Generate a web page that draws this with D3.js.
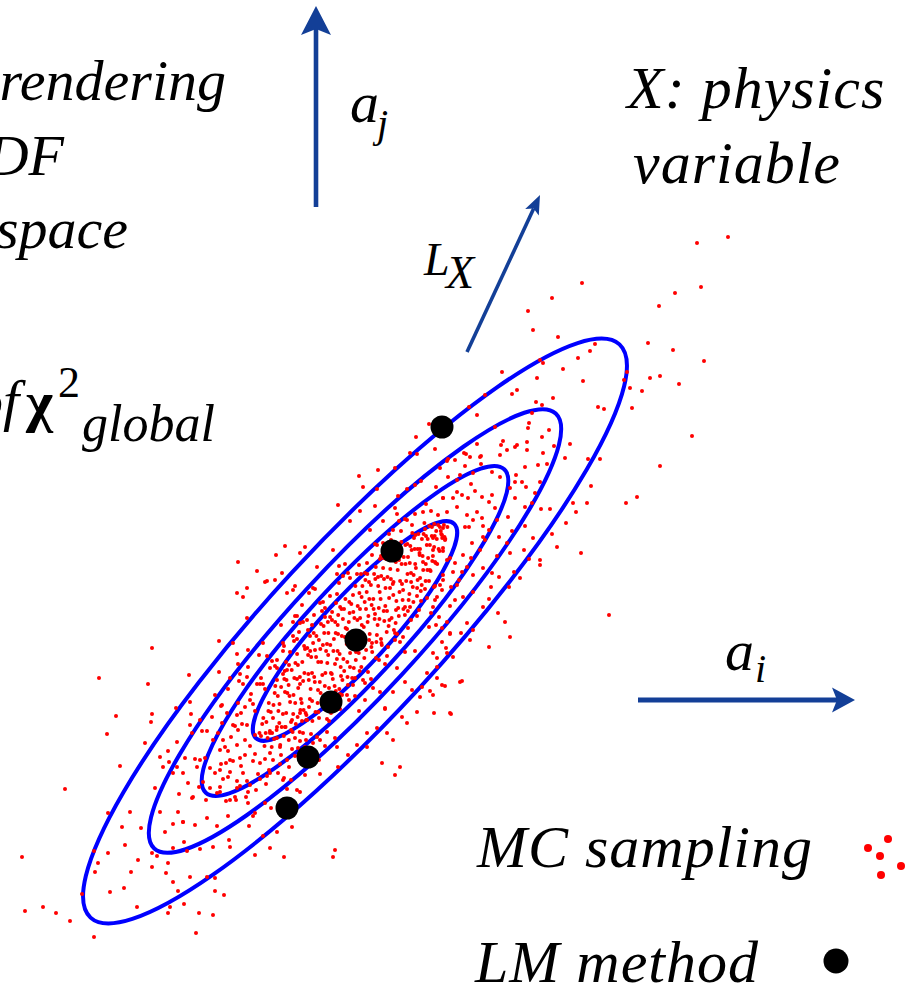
<!DOCTYPE html>
<html>
<head>
<meta charset="utf-8">
<script src="https://cdn.jsdelivr.net/npm/d3@7"></script>
<style>
  html, body { margin: 0; padding: 0; background: #fff; overflow: hidden; }
  svg { display: block; }
</style>
</head>
<body>
<svg id="fig" width="909" height="988"></svg>
<script>
// ---- parameter plane (a_i, a_j), origin at the chi^2 minimum ----
const aiDomain = [-3.55, 5.54];
const ajDomain = [-3.57, 6.31];

// chi^2 contours: tilted ellipses around the minimum
const contourCenter = [0, 0];
const contourSemiMajor = [1.46, 2.20, 2.96, 3.90];
const contourSemiMinor = [0.34, 0.48, 0.64, 0.86];
const contourAngleDeg = 47.3;

// Lagrange-multiplier scan points along L_X
const lmPoints = [[0.87, 2.04], [0.37, 0.80], [0.01, -0.09], [-0.24, -0.71], [-0.47, -1.26], [-0.68, -1.77]];

// direction arrows (start, end) in the a_i / a_j plane
const arrowAj = [[-0.39, 4.24], [-0.39, 6.25]];
const arrowAi = [[2.83, -0.69], [5.00, -0.69]];
const arrowLx = [[1.12, 2.79], [1.85, 4.36]];

// Monte Carlo samples of (a_i, a_j)
const mcOuterUpper = [
  [3.73,3.94],[3.42,3.88],[2.27,3.48],[3.46,3.44],[3.20,3.38],[1.97,3.33],[1.73,3.20],[3.04,3.25],[1.78,3.01],[2.03,2.94],
  [2.40,2.87],[2.93,2.88],[3.18,2.81],[2.23,2.73],[3.49,2.70],[1.88,2.68],[1.47,2.59],[2.08,2.62],[1.82,2.53],[2.28,2.50],
  [3.05,2.55],[2.95,2.53],[3.24,2.47],[1.62,2.41],[1.57,2.37],[2.75,2.43],[2.87,2.40],[1.98,2.33],[1.81,2.29],[1.87,2.26],
  [2.43,2.24],[2.49,2.22],[2.77,2.23],[1.14,2.24],[1.22,2.16],[3.37,1.95],[0.74,2.07],[0.61,1.94],[0.80,1.82],[0.55,1.78],
  [1.40,2.04],[1.77,2.18],[1.74,2.08],[1.73,2.03],[1.94,2.01],[1.87,1.94],[1.46,1.86],[1.52,1.81],[1.60,1.84],[1.72,1.89],
  [1.99,1.85],[2.15,1.87],[1.11,1.77],[1.25,1.74],[1.45,1.76],[1.72,1.81],[1.88,1.78],[2.72,2.59],[2.69,2.51],
  [0.04,1.55],[-0.17,1.26],[0.20,1.25],[0.23,1.61],[0.40,1.63],[0.08,1.44],[0.22,1.42],[0.43,1.35],[0.60,1.46],[0.42,1.17],
  [-0.05,1.10]
];
const mcOuterRight = [
  [3.05,1.65],[2.82,1.34],[2.71,1.28],[2.36,1.45],[2.32,1.28],[2.21,1.19],[2.45,1.72],[2.33,1.72],[2.18,1.28],[2.11,1.08],
  [2.02,0.84],[2.26,0.78],[1.97,0.97],[1.85,0.71],[1.85,0.66],[1.74,0.72],[1.65,0.53],[1.59,0.59],[1.54,0.44],[1.43,0.18],
  [1.50,0.09],[1.55,-0.06],[1.34,-0.16],[2.54,0.16],[1.07,-0.50],[0.90,-0.55],[0.82,-0.47],[0.96,-0.83],[0.79,-0.82],[0.75,-0.60],
  [1.70,1.64],[1.83,1.66],[1.92,1.67],[1.85,1.49],[1.71,1.44],[1.61,1.56],[1.67,1.49],[1.95,1.22],[1.86,1.22],[1.77,1.28],
  [1.70,1.24],[1.80,1.38],[1.60,1.33],[1.53,1.14],[1.57,1.00],[1.70,1.05],[1.78,0.93],[1.69,0.81],[1.52,0.88],[1.44,0.94],
  [1.42,0.75],[1.37,0.58],[1.44,0.54],[1.36,0.44],[1.18,0.39],[1.34,0.32],[1.28,0.24],[1.12,0.08],[1.18,0.01],[1.06,-0.02],
  [1.15,-0.09],[0.95,-0.03],[0.87,-0.11],[0.91,-0.17],[0.82,-0.27],[0.78,-0.22]
];
const mcMiddleRight = [
  [1.26,1.75],[1.15,1.74],[1.09,1.78],[1.00,1.71],[0.93,1.72],[1.10,1.65],[1.26,1.67],[1.37,1.59],[1.18,1.58],[1.05,1.56],
  [0.93,1.54],[0.85,1.63],[0.81,1.44],[1.02,1.51],[1.16,1.47],[1.27,1.34],[1.37,1.36],[1.34,1.29],[1.40,1.23],[1.45,1.54],
  [1.60,1.49],[1.07,1.36],[1.13,1.33],[0.88,1.33],[0.98,1.33],[0.92,1.19],[1.02,1.24],[1.12,1.16],[1.22,1.19],[1.27,1.13],
  [1.28,1.05],[1.14,1.04],[1.18,1.11],[1.42,1.11],[1.34,1.01],[1.28,0.94],[1.17,0.88],[1.25,0.81],[1.16,0.73],[1.08,0.76],
  [1.12,0.64],[1.07,0.59],[1.18,0.56],[1.28,0.63],[1.02,0.46],[1.08,0.34],[1.00,0.31],[0.95,0.25],[0.92,0.09],[0.87,0.03],
  [0.84,0.14],[0.81,0.06],[0.96,0.44],[0.88,0.56],[0.85,0.46],[0.82,0.34],[0.78,0.24],[0.76,0.18],
  [0.88,1.03],[0.87,0.96],[0.78,0.93],[0.78,0.81],[0.90,0.91],[0.88,0.83],[0.92,0.71],[1.00,0.68],[0.80,0.69],[0.98,0.59],
  [0.88,0.51],[0.87,0.41],[0.79,0.44],[0.80,0.31]
];
const mcOuterLeft = [
  [-1.17,0.69],[-1.18,0.38],[-1.08,0.43],[-1.12,0.34],[-2.03,-0.17],[-2.56,-0.47],[-2.07,-0.53],[-1.66,-0.44],[-1.36,-0.10],[-1.36,-0.41],
  [-2.39,-0.85],[-2.48,-1.03],[-2.03,-0.83],[-2.04,-0.91],[-2.10,-1.12],[-2.35,-1.35],[-2.90,-1.58],[-1.78,-1.11],[-1.65,-0.71],[-1.79,-0.77],
  [-1.64,-0.83],[-1.55,-0.89],[-1.63,-1.02],[-1.53,-1.00],[-1.87,-1.20],[-1.95,-1.26],[-1.70,-1.27],[-1.78,-1.36],[-1.82,-1.42],[-1.86,-1.31],
  [-1.72,-1.42],[-1.58,-1.36],[-1.50,-1.27],[-1.45,-1.37],[-1.67,-1.52],[-1.56,-1.56],[-1.35,-1.19],[-1.34,-0.75],[-1.22,-0.94],[-1.17,-0.99],
  [-1.08,-0.94],[-1.33,-0.92],[-1.43,-0.86],[-1.42,-1.09],[-1.32,-1.09],[-1.18,-1.14],[-1.40,-0.64],[-1.27,-0.58],[-1.17,-0.33],[-1.07,-0.36],
  [-1.08,-0.46],[-1.17,-0.72],[-1.10,-0.76],[-1.18,-0.84],[-1.25,-0.47],[-1.37,-1.02],[-1.35,-1.39],[-1.25,-1.29],[-1.15,-1.27],[-1.10,-1.24],
  [-1.35,-1.56],[-1.27,-1.46],[-1.18,-1.57],[-1.62,-1.66],[-1.07,-0.19],[-1.08,0.13],
  [-0.70,0.85],[-0.79,0.76],[-0.98,0.60],[-0.88,0.50],[-0.80,0.51],[-0.62,0.41],[-0.53,0.26],[-0.50,0.84],[-0.22,0.81],[-0.38,0.64],
  [-0.42,0.43],[-0.18,0.57],[-0.68,0.38],[-0.62,0.09],[-0.72,-0.12],[-0.92,-0.12],[-0.88,-0.25],[-1.22,-0.12],[-1.15,-0.43],[-0.98,-0.53],
  [-0.78,-0.49],[-0.68,-0.39],[-0.55,-0.53],[-0.78,-0.29],[-0.55,0.78],[-0.90,0.49],[-0.73,0.58]
];
const mcOuterLower = [
  [-3.12,-2.76],[-2.99,-2.82],[-2.85,-2.90],[-2.61,-3.06],[-1.59,-3.02],[-1.87,-2.82],[-1.56,-2.82],[-1.42,-2.84],[-1.40,-2.60],[-1.31,-2.64],
  [-1.71,-2.73],[-1.77,-2.60],[-1.65,-2.46],[-1.48,-2.46],[-1.82,-2.51],[-1.89,-2.42],[-1.87,-2.32],[-2.17,-2.29],[-2.24,-2.41],[-2.31,-2.57],
  [-2.03,-2.36],[-2.60,-2.41],[-2.57,-2.32],[-2.47,-2.22],[-2.33,-1.96],[-2.14,-1.97],[-2.25,-1.81],[-2.47,-1.82],[-2.61,-2.20],[-2.73,-2.63],
  [-2.03,-2.22],[-1.71,-2.11],[-1.72,-1.91],[-1.82,-1.93],[-1.95,-1.81],[-1.77,-1.81],[-1.60,-1.94],[-1.63,-1.67],[-1.49,-1.69],[-1.48,-1.87],
  [-1.27,-1.85],[-1.25,-2.16],[-1.00,-2.24],[-0.85,-2.17],[-0.71,-2.26],[-1.20,-1.66],[-1.07,-1.72],[-1.02,-1.85],[-0.72,-1.49],[-0.58,-1.59],
  [-0.78,-2.01],[-0.63,-1.96],[-1.55,-1.29],[-1.29,-1.32],[-1.14,-1.35],[-1.02,-1.30],[-1.12,-1.42],[-1.52,-1.51],[-1.05,-1.15],[-1.92,-1.36],
  [-1.28,-0.82],[-1.00,-1.04],[-0.85,-1.02],[-0.78,-0.96],[-0.70,-0.96],[-0.63,-0.89],[-0.55,-0.82],[-0.48,-0.89],[-0.75,-1.16],[-0.71,-1.47],
  [-0.68,-1.58],[-3.33,-2.26],[-3.30,-2.80],[-0.20,-2.19],[-0.22,-2.26],
  [0.95,-0.82],[1.05,-0.51],[0.65,-0.66],[0.67,-0.56],[0.45,-1.36],[0.27,-1.32],[0.40,-1.44],[0.12,-1.16],[-0.17,-1.36],[0.12,-1.02],
  [0.22,-0.97],[0.32,-1.02],[0.47,-0.86],[0.52,-0.92],[0.62,-0.81],[0.57,-0.59],[0.50,-0.51],[0.38,-0.61],[0.30,-0.77],[0.72,-0.42],
  [0.82,-0.36],[0.92,-0.22],[0.98,-0.26],[0.87,-0.54],[0.78,-0.64],[0.38,-1.09],[0.02,-1.14],[-0.07,-1.24],[-0.18,-1.16],[-0.28,-1.01],
  [-0.35,-1.09],[-0.50,-1.44],[-0.55,-1.61],[-0.85,-1.42],[-0.95,-1.32],[-1.07,-1.61],[-1.25,-1.69],[-1.00,-1.82]
];
const mcCore = [
  [-0.940,-1.05],[-0.917,-0.87],[-0.905,-1.15],[-0.886,-0.91],[-0.862,-0.72],[-0.851,-1.00],[-0.833,-1.16],[-0.815,-0.74],[-0.797,-0.55],[-0.784,-0.99],
  [-0.766,-0.80],[-0.748,-1.14],[-0.739,-0.56],[-0.721,-0.83],[-0.703,-0.40],[-0.694,-0.96],[-0.676,-0.62],[-0.662,-1.09],[-0.649,-0.71],[-0.633,-0.39],
  [-0.618,-0.83],[-0.607,-0.47],[-0.592,-0.93],[-0.579,-0.23],[-0.568,-0.57],[-0.553,-1.01],[-0.541,-0.68],[-0.527,-0.31],[-0.514,-0.79],[-0.506,-0.42],
  [-0.488,-0.89],[-0.477,-0.17],[-0.462,-0.49],[-0.451,-0.68],[-0.438,-0.26],[-0.426,-0.90],[-0.413,-0.02],[-0.402,-0.51],[-0.389,-0.26],[-0.374,-0.72],
  [-0.361,-0.09],[-0.352,-0.51],[-0.338,-0.31],[-0.327,-0.74],[-0.314,0.05],[-0.302,-0.55],[-0.289,-0.20],[-0.277,-0.32],[-0.266,-0.02],[-0.253,-0.72],
  [-0.241,-0.42],[-0.229,0.19],[-0.216,-0.20],[-0.204,-0.55],[-0.193,-0.02],[-0.181,-0.28],[-0.168,0.16],[-0.157,-0.58],[-0.143,-0.36],[-0.132,-0.05],
  [-0.121,0.12],[-0.108,-0.40],[-0.096,0.32],[-0.083,-0.13],[-0.071,-0.54],[-0.062,0.09],[-0.049,-0.22],[-0.037,0.27],[-0.024,-0.01],[-0.012,-0.37],
  [0.004,0.45],[0.013,-0.10],[0.027,0.25],[0.038,-0.22],[0.051,0.13],[0.063,-0.36],[0.074,0.45],[0.088,0.04],[0.097,0.29],[0.111,-0.19],
  [0.123,0.57],[0.134,0.15],[0.147,-0.03],[0.159,0.46],[0.172,-0.21],[0.183,0.32],[0.196,0.12],[0.208,0.64],[0.219,-0.04],[0.232,0.45],
  [0.244,0.12],[0.256,0.32],[0.268,-0.14],[0.281,0.63],[0.293,0.10],[0.305,0.43],[0.317,-0.01],[0.329,0.78],[0.341,0.33],[0.353,0.62],
  [0.366,0.13],[0.378,0.47],[0.389,0.01],[0.402,0.79],[0.414,0.30],[0.427,0.61],[0.438,0.15],[0.451,0.50],[0.463,0.89],[0.476,0.31],
  [0.487,0.74],[0.499,0.16],[0.512,0.50],[0.524,0.87],[0.536,0.31],[0.548,0.68],[0.561,0.49],[0.573,0.98],[0.584,0.29],[0.597,0.82],
  [0.609,0.63],[0.621,0.43],[0.634,0.97],[0.646,0.76],[0.658,0.40],[0.669,0.92],[0.682,0.61],[0.694,1.08],[0.706,0.50],[0.718,0.86],
  [0.731,0.73],[0.743,1.05],[0.756,0.60],[0.768,0.95],[0.779,0.75],[0.792,1.07],[0.806,0.68],[0.818,0.92],[0.831,1.06],[0.845,0.80],
  [0.858,1.00],[0.872,0.93],[0.889,1.06],[0.903,0.92],[0.924,1.04],
  [-0.928,-0.93],[-0.874,-1.07],[-0.842,-0.81],[-0.809,-1.08],[-0.772,-0.65],[-0.757,-0.92],[-0.712,-1.05],[-0.685,-0.49],[-0.655,-0.65],[-0.624,-1.01],
  [-0.598,-0.72],[-0.571,-0.34],[-0.546,-0.79],[-0.519,-0.50],[-0.494,-0.82],[-0.469,-0.24],[-0.444,-0.58],[-0.419,-0.12],[-0.395,-0.81],[-0.368,-0.31],
  [-0.344,-0.62],[-0.321,-0.14],[-0.296,-0.42],[-0.271,0.09],[-0.247,-0.14],[-0.222,-0.48],[-0.198,0.09],[-0.174,-0.20],[-0.149,0.24],[-0.126,-0.49],
  [-0.101,-0.06],[-0.077,-0.31],[-0.054,0.18],[-0.028,-0.47],[-0.006,0.13],[0.019,-0.17],[0.044,0.38],[0.068,0.06],[0.093,-0.27],[0.117,0.39],
  [0.141,-0.09],[0.166,0.26],[0.191,0.57],[0.214,-0.11],[0.238,0.23],[0.262,0.55],[0.287,0.20],[0.311,0.72],[0.336,0.05],[0.359,0.52],
  [0.383,0.36],[0.408,0.69],[0.432,0.23],[0.457,0.80],[0.481,0.41],[0.505,0.67],[0.529,0.20],[0.553,0.85],[0.578,0.44],[0.602,0.67],
  [0.627,0.82],[0.651,0.53],[0.676,0.75],[0.700,1.02],[0.724,0.61],[0.749,0.86],[0.773,0.70],[0.797,0.95],[0.822,0.67],[0.849,1.04],
  [0.880,0.80],
  [-0.82,-0.87],[-0.70,-0.61],[-0.64,-0.91],[-0.58,-0.48],[-0.53,-0.90],[-0.50,-0.18],[-0.46,-0.76],[-0.43,-0.42],[-0.40,-0.19],[-0.37,-0.59],
  [-0.34,0.07],[-0.31,-0.77],[-0.28,-0.13],[-0.26,-0.57],[-0.23,0.11],[-0.20,-0.33],[-0.17,-0.03],[-0.14,-0.45],[-0.11,0.22],[-0.08,0.02],
  [-0.05,-0.36],[-0.02,0.36],[0.01,-0.21],[0.05,0.22],[0.08,-0.05],[0.11,0.22],[0.14,0.49],[0.17,-0.12],[0.20,0.17],[0.23,0.54],
  [0.26,-0.08],[0.29,0.52],[0.32,0.20],[0.35,0.43],[0.38,0.81],[0.41,0.21],[0.44,0.71],[0.47,0.47],[0.50,0.24],[0.53,0.74],
  [0.56,0.58],[0.59,0.93],[0.62,0.35],[0.65,0.82],[0.68,0.69],[0.71,0.95],[0.74,0.50],
  [-0.955,-1.02],[-0.893,-1.02],[-0.866,-0.80],[-0.829,-1.02],[-0.803,-0.62],[-0.781,-1.07],[-0.755,-0.73],[-0.733,-0.96],[-0.707,-0.48],[-0.688,-0.82],
  [-0.664,-0.54],[-0.639,-0.99],[-0.615,-0.64],[-0.596,-0.32],[-0.574,-0.86],[-0.551,-0.46],[-0.533,-0.72],[-0.509,-0.15],[-0.486,-0.84],[-0.467,-0.43],
  [-0.448,-0.20],[-0.429,-0.70],[-0.408,-0.46],[-0.386,-0.05],[-0.366,-0.81],[-0.347,-0.18],[-0.327,-0.44],[-0.308,-0.02],[-0.287,-0.66],[-0.268,-0.24],
  [-0.249,0.14],[-0.232,-0.43],[-0.211,-0.08],[-0.192,-0.60],[-0.173,0.06],[-0.154,-0.23],[-0.135,0.22],[-0.116,-0.28],[-0.094,0.03],[-0.075,-0.46],
  [-0.057,0.29],[-0.036,-0.16],[-0.017,0.19],[0.008,-0.29],[0.024,0.11],[0.046,-0.40],[0.066,0.34],[0.083,-0.12],[0.104,0.51],[0.126,0.09],
  [0.143,0.32],[0.164,-0.16],[0.186,0.22],[0.203,0.52],[0.226,0.06],[0.247,0.39],[0.264,-0.12],[0.284,0.73],[0.303,0.25],[0.325,0.54],
  [0.344,0.11],[0.364,0.72],[0.385,0.49],[0.406,0.08],[0.423,0.83],[0.445,0.39],[0.466,0.67],[0.484,0.22],[0.504,0.86],[0.525,0.57],
  [0.544,0.37],[0.566,0.81],[0.586,0.56],[0.605,0.96],[0.626,0.51],[0.645,0.78],[0.667,0.46],[0.686,0.97],[0.708,0.67],[0.727,0.92],
  [0.749,0.61],[0.769,1.04],[0.791,0.84],[0.812,1.00],[0.836,0.82],[0.862,0.97],[0.895,0.94],[-0.60,-1.07],[-0.30,0.14],[0.00,-0.47],
  [0.25,0.72],[0.55,0.24],[-0.45,-0.05],[-0.15,-0.63],[0.40,-0.02],[0.10,0.58],[-0.72,-0.43],[0.70,0.42],[-0.85,-1.22],[0.83,1.16]
];
const mcBand = [
  [-1.40,-1.42],[-1.35,-1.61],[-1.30,-1.16],[-1.25,-1.41],[-1.20,-0.95],[-1.15,-1.55],[-1.10,-1.09],[-1.05,-0.69],[-1.05,-1.54],[-1.00,-0.80],
  [-1.00,-1.23],[-0.95,-0.53],[-0.95,-1.48],[-0.90,-0.58],[-0.88,-1.45],[-0.85,-0.37],[-0.82,-1.29],[-0.78,-0.37],[-0.75,-1.33],[-0.72,-0.20],
  [-0.68,-1.29],[-0.65,-0.21],[-0.62,-0.05],[-0.60,-1.25],[-0.58,-0.08],[-0.55,-1.10],[-0.52,0.09],[-0.50,-1.16],[-0.47,0.01],[-0.44,-1.03],
  [-0.41,0.16],[-0.38,-1.06],[-0.35,0.28],[-0.30,0.23],[-0.28,-0.88],[-0.25,0.35],[-0.22,-0.76],[-0.18,0.37],[-0.15,-0.78],[-0.12,0.55],
  [-0.08,-0.64],[-0.05,0.53],[0.00,-0.65],[0.04,0.66],[0.08,-0.49],[0.12,0.68],[0.16,-0.48],[0.20,0.87],[0.24,-0.29],[0.28,0.88],
  [0.32,-0.25],[0.36,0.91],[0.40,-0.09],[0.44,1.10],[0.48,-0.06],[0.52,1.11],[0.56,0.11],[0.60,1.17],[0.64,0.21],[0.68,1.19],
  [0.72,0.33],[-0.40,-1.23],[-0.20,-1.07],[0.10,-0.69],[0.25,-0.61],[0.50,-0.21],[0.60,-0.20],[-0.60,0.15],[-0.40,0.42],[-0.10,0.67],
  [0.15,1.01],[0.40,1.23],
  [-1.32,-1.48],[-1.27,-1.20],[-1.18,-1.50],[-1.13,-0.93],[-1.08,-1.50],[-1.02,-0.73],[-0.97,-1.43],[-0.92,-0.53],[-0.86,-1.39],[-0.80,-0.35],
  [-0.74,-1.24],[-0.69,-0.31],[-0.63,-1.18],[-0.56,-0.01],[-0.49,-1.09],[-0.43,0.06],[-0.36,-0.87],[-0.32,0.29],[-0.26,-0.90],[-0.19,0.28],
  [-0.13,-0.64],[-0.07,0.58],[-0.02,-0.54],[0.06,0.57],[0.10,-0.52],[0.17,0.76],[0.21,-0.27],[0.26,0.75],[0.30,-0.33],[0.34,0.97],
  [0.42,-0.03],[0.46,1.00],[0.53,0.03],[0.57,1.06],[0.66,0.30],[0.76,1.20],[-1.22,-1.30],[-0.90,-1.28],[-0.66,-0.34],[-0.52,-1.02],
  [-1.38,-1.62],[-1.34,-1.33],[-1.29,-1.70],[-1.24,-1.06],[-1.19,-1.69],[-1.14,-0.82],[-1.09,-1.66],[-1.04,-0.63],[-0.99,-1.59],[-0.94,-0.47],
  [-0.89,-1.53],[-0.83,-0.30],[-0.77,-1.42],[-0.71,-0.15],[-0.66,-1.36],[-0.61,-0.10],[-0.57,-1.17],[-0.48,0.11],[-0.42,-1.12],[-0.33,0.20],
  [-0.24,-0.82],[-0.16,0.48],[-0.06,-0.69],[0.02,0.57],[0.13,-0.41],[0.22,0.86],[0.33,-0.16],[0.38,1.01],[0.45,-0.11],[0.50,1.12],
  [0.62,0.15],[0.71,1.27],[0.80,0.45],[0.88,1.33],[0.95,0.73],[1.02,1.39],[1.10,1.04],[1.20,1.40],[-1.45,-1.57],[-0.55,0.08]
];
const mcWide = [
  [-1.90,-2.01],[-1.82,-2.17],[-1.76,-1.63],[-1.68,-2.20],[-1.60,-1.28],[-1.55,-2.18],[-1.48,-1.00],[-1.42,-2.16],[-1.33,-0.74],[-1.26,-2.09],
  [-1.16,-0.50],[-1.06,-1.95],[-0.96,-0.24],[-0.84,-1.77],[-0.74,0.06],[-0.64,-1.49],[-0.46,0.38],[-0.30,-1.15],[-0.16,0.65],[0.04,-0.80],
  [0.28,1.10],[0.42,-0.37],[0.66,1.50],[0.74,0.04],[0.92,1.70],[1.04,0.51],[1.22,1.87],[1.30,0.91],[1.48,1.90],[1.55,1.43],
  [-1.72,-1.91],[-1.12,-0.53],[-0.90,-1.72],[-0.58,0.15],[-0.36,-1.29],[0.18,-0.57],[0.52,1.42],[-1.98,-2.25],[1.62,1.86],[-1.38,-1.95],
  [-2.45,-2.61],[-2.30,-2.14],[-2.18,-2.76],[-2.00,-1.57],[-1.85,-2.76],[-1.65,-0.94],[-1.40,-2.47],[-1.18,-0.23],[-0.92,-2.05],[-0.60,0.45],
  [-0.35,-1.43],[0.05,1.20],[0.30,-0.78],[0.62,1.77],[0.95,-0.02],[1.30,2.36],[1.55,0.78],[1.85,2.71],[2.10,1.73],[2.35,2.80]
];
const mcSamples = [].concat(mcOuterUpper, mcOuterRight, mcMiddleRight, mcOuterLeft, mcOuterLower, mcCore, mcBand, mcWide);

// legend
const legendItems = ["MC sampling", "LM method"];
const legendScatter = [[-13, -11], [7, -20], [-1, -3], [20, 7], [0, 16]]; // glyph cluster offsets, px

// ---- drawing ----
const W = 909, H = 988;
const serif = "'Liberation Serif', 'Times New Roman', Times, 'DejaVu Serif', serif";
const svg = d3.select("#fig");
const X = d3.scaleLinear().domain(aiDomain).range([0, W]);
const Y = d3.scaleLinear().domain(ajDomain).range([H, 0]);

const arrowColor = "#133f97";

// contours
svg.append("g").attr("class", "contours")
  .selectAll("ellipse")
  .data(d3.range(contourSemiMajor.length))
  .join("ellipse")
  .attr("transform", `translate(${X(contourCenter[0])},${Y(contourCenter[1])}) rotate(${-contourAngleDeg})`)
  .attr("rx", i => X(contourSemiMajor[i]) - X(0))
  .attr("ry", i => Y(0) - Y(contourSemiMinor[i]))
  .attr("fill", "none")
  .attr("stroke", "#0000ff")
  .attr("stroke-width", 4);

// MC samples
svg.append("g").attr("class", "mc")
  .selectAll("circle")
  .data(mcSamples)
  .join("circle")
  .attr("cx", d => X(d[0]))
  .attr("cy", d => Y(d[1]))
  .attr("r", 2)
  .attr("fill", "#ff0000");

// LM points
svg.append("g").attr("class", "lm")
  .selectAll("circle")
  .data(lmPoints)
  .join("circle")
  .attr("cx", d => X(d[0]))
  .attr("cy", d => Y(d[1]))
  .attr("r", 11.5)
  .attr("fill", "#000");

// arrows with notched heads
function drawArrow(seg, width, head, half, notch) {
  const x1 = X(seg[0][0]), y1 = Y(seg[0][1]);
  const x2 = X(seg[1][0]), y2 = Y(seg[1][1]);
  const len = Math.hypot(x2 - x1, y2 - y1);
  const ux = (x2 - x1) / len, uy = (y2 - y1) / len;
  const px = -uy, py = ux;
  const bx = x2 - ux * head, by = y2 - uy * head;
  const nx = x2 - ux * (head - notch), ny = y2 - uy * (head - notch);
  const g = svg.append("g").attr("class", "arrow");
  g.append("line")
    .attr("x1", x1).attr("y1", y1).attr("x2", nx).attr("y2", ny)
    .attr("stroke", arrowColor).attr("stroke-width", width);
  g.append("path")
    .attr("d", `M${x2},${y2}L${bx + px * half},${by + py * half}L${nx},${ny}L${bx - px * half},${by - py * half}Z`)
    .attr("fill", arrowColor);
}
drawArrow(arrowAj, 4.6, 29, 15, 6);
drawArrow(arrowAi, 5, 23, 12.5, 5);
drawArrow(arrowLx, 3.6, 19, 7.5, 4);

// text helper
function label(txt, x, y, size, opts = {}) {
  const t = svg.append("text")
    .attr("x", x).attr("y", y)
    .attr("font-family", serif)
    .attr("font-size", size)
    .attr("font-style", opts.upright ? "normal" : "italic")
    .attr("font-weight", opts.bold ? "bold" : "normal")
    .attr("fill", "#000")
    .text(txt);
  if (opts.anchor) t.attr("text-anchor", opts.anchor);
  if (opts.spacing) t.attr("letter-spacing", opts.spacing);
  return t;
}

// left description
label("rendering", 226, 100, 58, { anchor: "end" });
label("PDF", 64, 175, 58, { anchor: "end" });
label("space", 128, 248, 58, { anchor: "end" });
label("of", 19, 420, 58, { anchor: "end" });
label("\u03C7", 26, 421, 58, { upright: true, bold: true });
label("2", 58, 397, 44, { upright: true });
label("global", 82, 441, 52);

// axis labels
label("a", 350, 122, 58);
label("j", 377, 137, 40);
label("a", 725, 670, 58);
label("i", 755, 682, 40);
label("L", 424, 275, 46);
label("X", 446, 288, 46);

// physics variable
label("X: physics", 627, 108, 60, { spacing: 1 });
label("variable", 633, 183, 60, { spacing: 1 });

// legend
label(legendItems[0], 477, 867, 60, { spacing: 1 });
label(legendItems[1], 475, 982, 60, { spacing: 1 });
svg.append("g").attr("class", "legend-mc")
  .attr("transform", "translate(881,859)")
  .selectAll("circle")
  .data(legendScatter)
  .join("circle")
  .attr("cx", d => d[0]).attr("cy", d => d[1])
  .attr("r", 4).attr("fill", "#ff0000");
svg.append("circle").attr("class", "legend-lm")
  .attr("cx", 836).attr("cy", 961).attr("r", 12.5).attr("fill", "#000");
</script>
</body>
</html>
